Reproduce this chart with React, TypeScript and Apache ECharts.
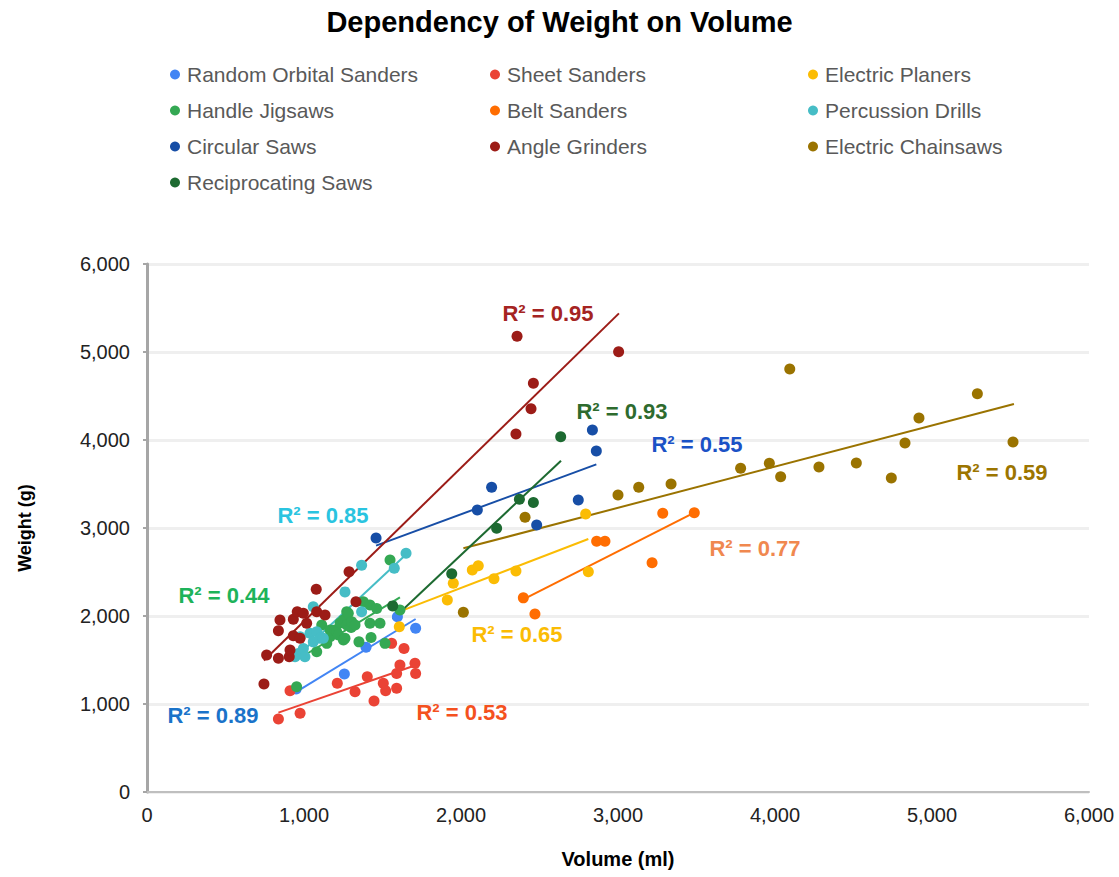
import React, { useEffect, useRef } from "react";
import * as echarts from "echarts";

const seriesNames = [
  "Random Orbital Sanders",
  "Sheet Sanders",
  "Electric Planers",
  "Handle Jigsaws",
  "Belt Sanders",
  "Percussion Drills",
  "Circular Saws",
  "Angle Grinders",
  "Electric Chainsaws",
  "Reciprocating Saws",
];

const seriesColors = [
  "#4285F4",
  "#EA4335",
  "#FBBC04",
  "#34A853",
  "#FF6D01",
  "#46BDC6",
  "#174EA6",
  "#9C1C17",
  "#9A7300",
  "#1D6A31",
];

const randomOrbitalSanders = [
  [950, 1170], [1257, 1341], [1395, 1644], [1595, 1992], [1711, 1860],
];
const sheetSanders = [
  [837, 830], [975, 894], [911, 1151], [1212, 1235], [1325, 1140], [1403, 1310],
  [1446, 1034], [1505, 1235], [1520, 1151], [1590, 1178], [1590, 1347], [1611, 1443],
  [1707, 1462], [1711, 1347], [1637, 1631], [1558, 1689],
];
const electricPlaners = [
  [1607, 1878], [1913, 2182], [1951, 2371], [2072, 2523], [2110, 2572],
  [2210, 2424], [2350, 2511], [2794, 3159], [2811, 2502],
];
const handleJigsaws = [
  [953, 1197], [1081, 1594], [1113, 1898], [1145, 1689], [1166, 1765], [1166, 1841],
  [1197, 1841], [1208, 1822], [1219, 1784], [1230, 1920], [1251, 1727], [1251, 1955],
  [1261, 1746], [1272, 1898], [1272, 2049], [1282, 2030], [1300, 1870], [1304, 1935],
  [1325, 1898], [1350, 1706], [1378, 2163], [1420, 2125], [1420, 1917], [1427, 1756],
  [1463, 2085], [1484, 1917], [1516, 1689], [1548, 2636], [1611, 2068],
];
const beltSanders = [
  [2397, 2206], [2471, 2023], [2864, 2849], [2917, 2849], [3217, 2606], [3285, 3167], [3486, 3174],
];
const percussionDrills = [
  [943, 1538], [964, 1575], [975, 1765], [996, 1631], [1006, 1538], [1038, 1803],
  [1059, 1706], [1059, 2106], [1081, 1822], [1102, 1746], [1123, 1746], [1261, 2274],
  [1367, 2049], [1367, 2576], [1575, 2542], [1650, 2712],
];
const circularSaws = [
  [1459, 2886], [2104, 3205], [2195, 3462], [2482, 3034], [2747, 3318], [2837, 4114], [2862, 3875],
];
const angleGrinders = [
  [745, 1227], [762, 1557], [837, 1519], [837, 1833], [847, 1955], [906, 1538],
  [911, 1614], [932, 1776], [932, 1962], [957, 2049], [975, 1746], [996, 2030],
  [1017, 1917], [1078, 2303], [1081, 2049], [1134, 2011], [1287, 2504], [1331, 2163],
  [2350, 4068], [2357, 5178], [2446, 4356], [2461, 4644], [3004, 5003],
];
const electricChainsaws = [
  [2015, 2042], [2408, 3121], [3000, 3375], [3132, 3462], [3338, 3500], [3781, 3678],
  [3964, 3735], [4036, 3583], [4094, 4807], [4280, 3693], [4518, 3739], [4741, 3568],
  [4828, 3966], [4917, 4250], [5289, 4526], [5516, 3977],
];
const reciprocatingSaws = [
  [1565, 2115], [1941, 2481], [2227, 2996], [2372, 3326], [2461, 3290], [2635, 4038],
];

const seriesData = [
  randomOrbitalSanders, sheetSanders, electricPlaners, handleJigsaws, beltSanders,
  percussionDrills, circularSaws, angleGrinders, electricChainsaws, reciprocatingSaws,
];

// Trendline endpoints [[x1, y1], [x2, y2]]
const trendLines = [
  [[943, 1129], [1711, 1966]],
  [[837, 902], [1711, 1440]],
  [[1607, 2049], [2811, 2875]],
  [[953, 1500], [1611, 2212]],
  [[2397, 2188], [3486, 3174]],
  [[943, 1519], [1650, 2700]],
  [[1459, 2800], [2862, 3723]],
  [[745, 1495], [3006, 5439]],
  [[2015, 2769], [5522, 4409]],
  [[1565, 1962], [2637, 3765]],
];

const rSquaredLabels = [
  "R² = 0.89", "R² = 0.53", "R² = 0.65", "R² = 0.44", "R² = 0.77",
  "R² = 0.85", "R² = 0.55", "R² = 0.95", "R² = 0.59", "R² = 0.93",
];
const rSquaredColors = [
  "#1A73C9", "#F4511E", "#FBBC04", "#1DB35A", "#F0884F",
  "#2AC4E0", "#1B52C6", "#A52422", "#9C7500", "#2E6B2E",
];
// label centers in pixels
const rSquaredPos = [
  [213, 715], [462, 712], [517, 634], [224, 595], [755, 548],
  [323, 515], [697, 444], [548, 313], [1002, 472], [622, 411],
];

const legendColumns = [
  ["Random Orbital Sanders", "Handle Jigsaws", "Circular Saws", "Reciprocating Saws"],
  ["Sheet Sanders", "Belt Sanders", "Angle Grinders"],
  ["Electric Planers", "Percussion Drills", "Electric Chainsaws"],
];
const legendLefts = [165, 485, 803];

const FONT = "'Liberation Sans', Arial, sans-serif";

export default function App() {
  const ref = useRef<HTMLDivElement>(null);
  useEffect(() => {
    if (!ref.current) return;
    const chart = echarts.init(ref.current, undefined, { renderer: "svg" });
    const scatterSeries = seriesNames.map((name, i) => ({
      name,
      type: "scatter",
      data: seriesData[i],
      symbolSize: 11,
      itemStyle: { color: seriesColors[i], opacity: 1 },
      z: 3,
    }));
    const lineSeries = seriesNames.map((name, i) => ({
      name: name + " trend",
      type: "line",
      data: trendLines[i],
      showSymbol: false,
      symbol: "none",
      lineStyle: { color: seriesColors[i], width: 2 },
      z: 2,
      silent: true,
    }));
    const option: any = {
      animation: false,
      backgroundColor: "#ffffff",
      textStyle: { fontFamily: FONT },
      title: {
        text: "Dependency of Weight on Volume",
        left: "center",
        top: 2,
        textStyle: { fontFamily: FONT, fontSize: 29, fontWeight: "bold", color: "#000" },
      },
      legend: legendColumns.map((col, k) => ({
        data: col,
        orient: "vertical",
        left: legendLefts[k],
        top: 59,
        itemGap: 15,
        itemWidth: 10,
        itemHeight: 10,
        icon: "circle",
        textStyle: { fontFamily: FONT, fontSize: 21, color: "#595959", padding: [0, 0, 0, 2] },
      })),
      grid: { left: 147, right: 30, top: 264, bottom: 85, containLabel: false },
      xAxis: {
        type: "value",
        min: 0,
        max: 6000,
        interval: 1000,
        name: "Volume (ml)",
        nameLocation: "middle",
        nameGap: 57,
        nameTextStyle: { fontFamily: FONT, fontSize: 20, fontWeight: "bold", color: "#000" },
        axisLine: { show: true, lineStyle: { color: "#BFBFBF", width: 2 } },
        axisTick: { show: false },
        splitLine: { show: false },
        axisLabel: {
          margin: 13,
          fontFamily: FONT,
          fontSize: 20,
          color: "#222",
          formatter: (v: number) => v.toLocaleString("en-US"),
        },
      },
      yAxis: {
        type: "value",
        min: 0,
        max: 6000,
        interval: 1000,
        name: "Weight (g)",
        nameLocation: "middle",
        nameGap: 113,
        nameRotate: 90,
        nameTextStyle: { fontFamily: FONT, fontSize: 18, fontWeight: "bold", color: "#000" },
        axisLine: { show: true, lineStyle: { color: "#A6A6A6", width: 3 } },
        axisTick: { show: true, length: 4, lineStyle: { color: "#A6A6A6", width: 2 } },
        splitLine: { show: true, lineStyle: { color: "#EFEFEF", width: 3 } },
        axisLabel: {
          margin: 17,
          fontFamily: FONT,
          fontSize: 20,
          color: "#222",
          formatter: (v: number) => v.toLocaleString("en-US"),
        },
      },
      series: [...lineSeries, ...scatterSeries],
      graphic: rSquaredLabels.map((t, i) => ({
        type: "text",
        x: rSquaredPos[i][0],
        y: rSquaredPos[i][1],
        z: 10,
        style: {
          text: t,
          fill: rSquaredColors[i],
          font: `bold 22px ${FONT}`,
          textAlign: "center",
          textVerticalAlign: "middle",
        },
      })),
    };
    chart.setOption(option);
    return () => chart.dispose();
  }, []);
  return (
    <div
      ref={ref}
      style={{ position: "fixed", left: 0, top: 0, width: 1119, height: 877, background: "#fff" }}
    />
  );
}
